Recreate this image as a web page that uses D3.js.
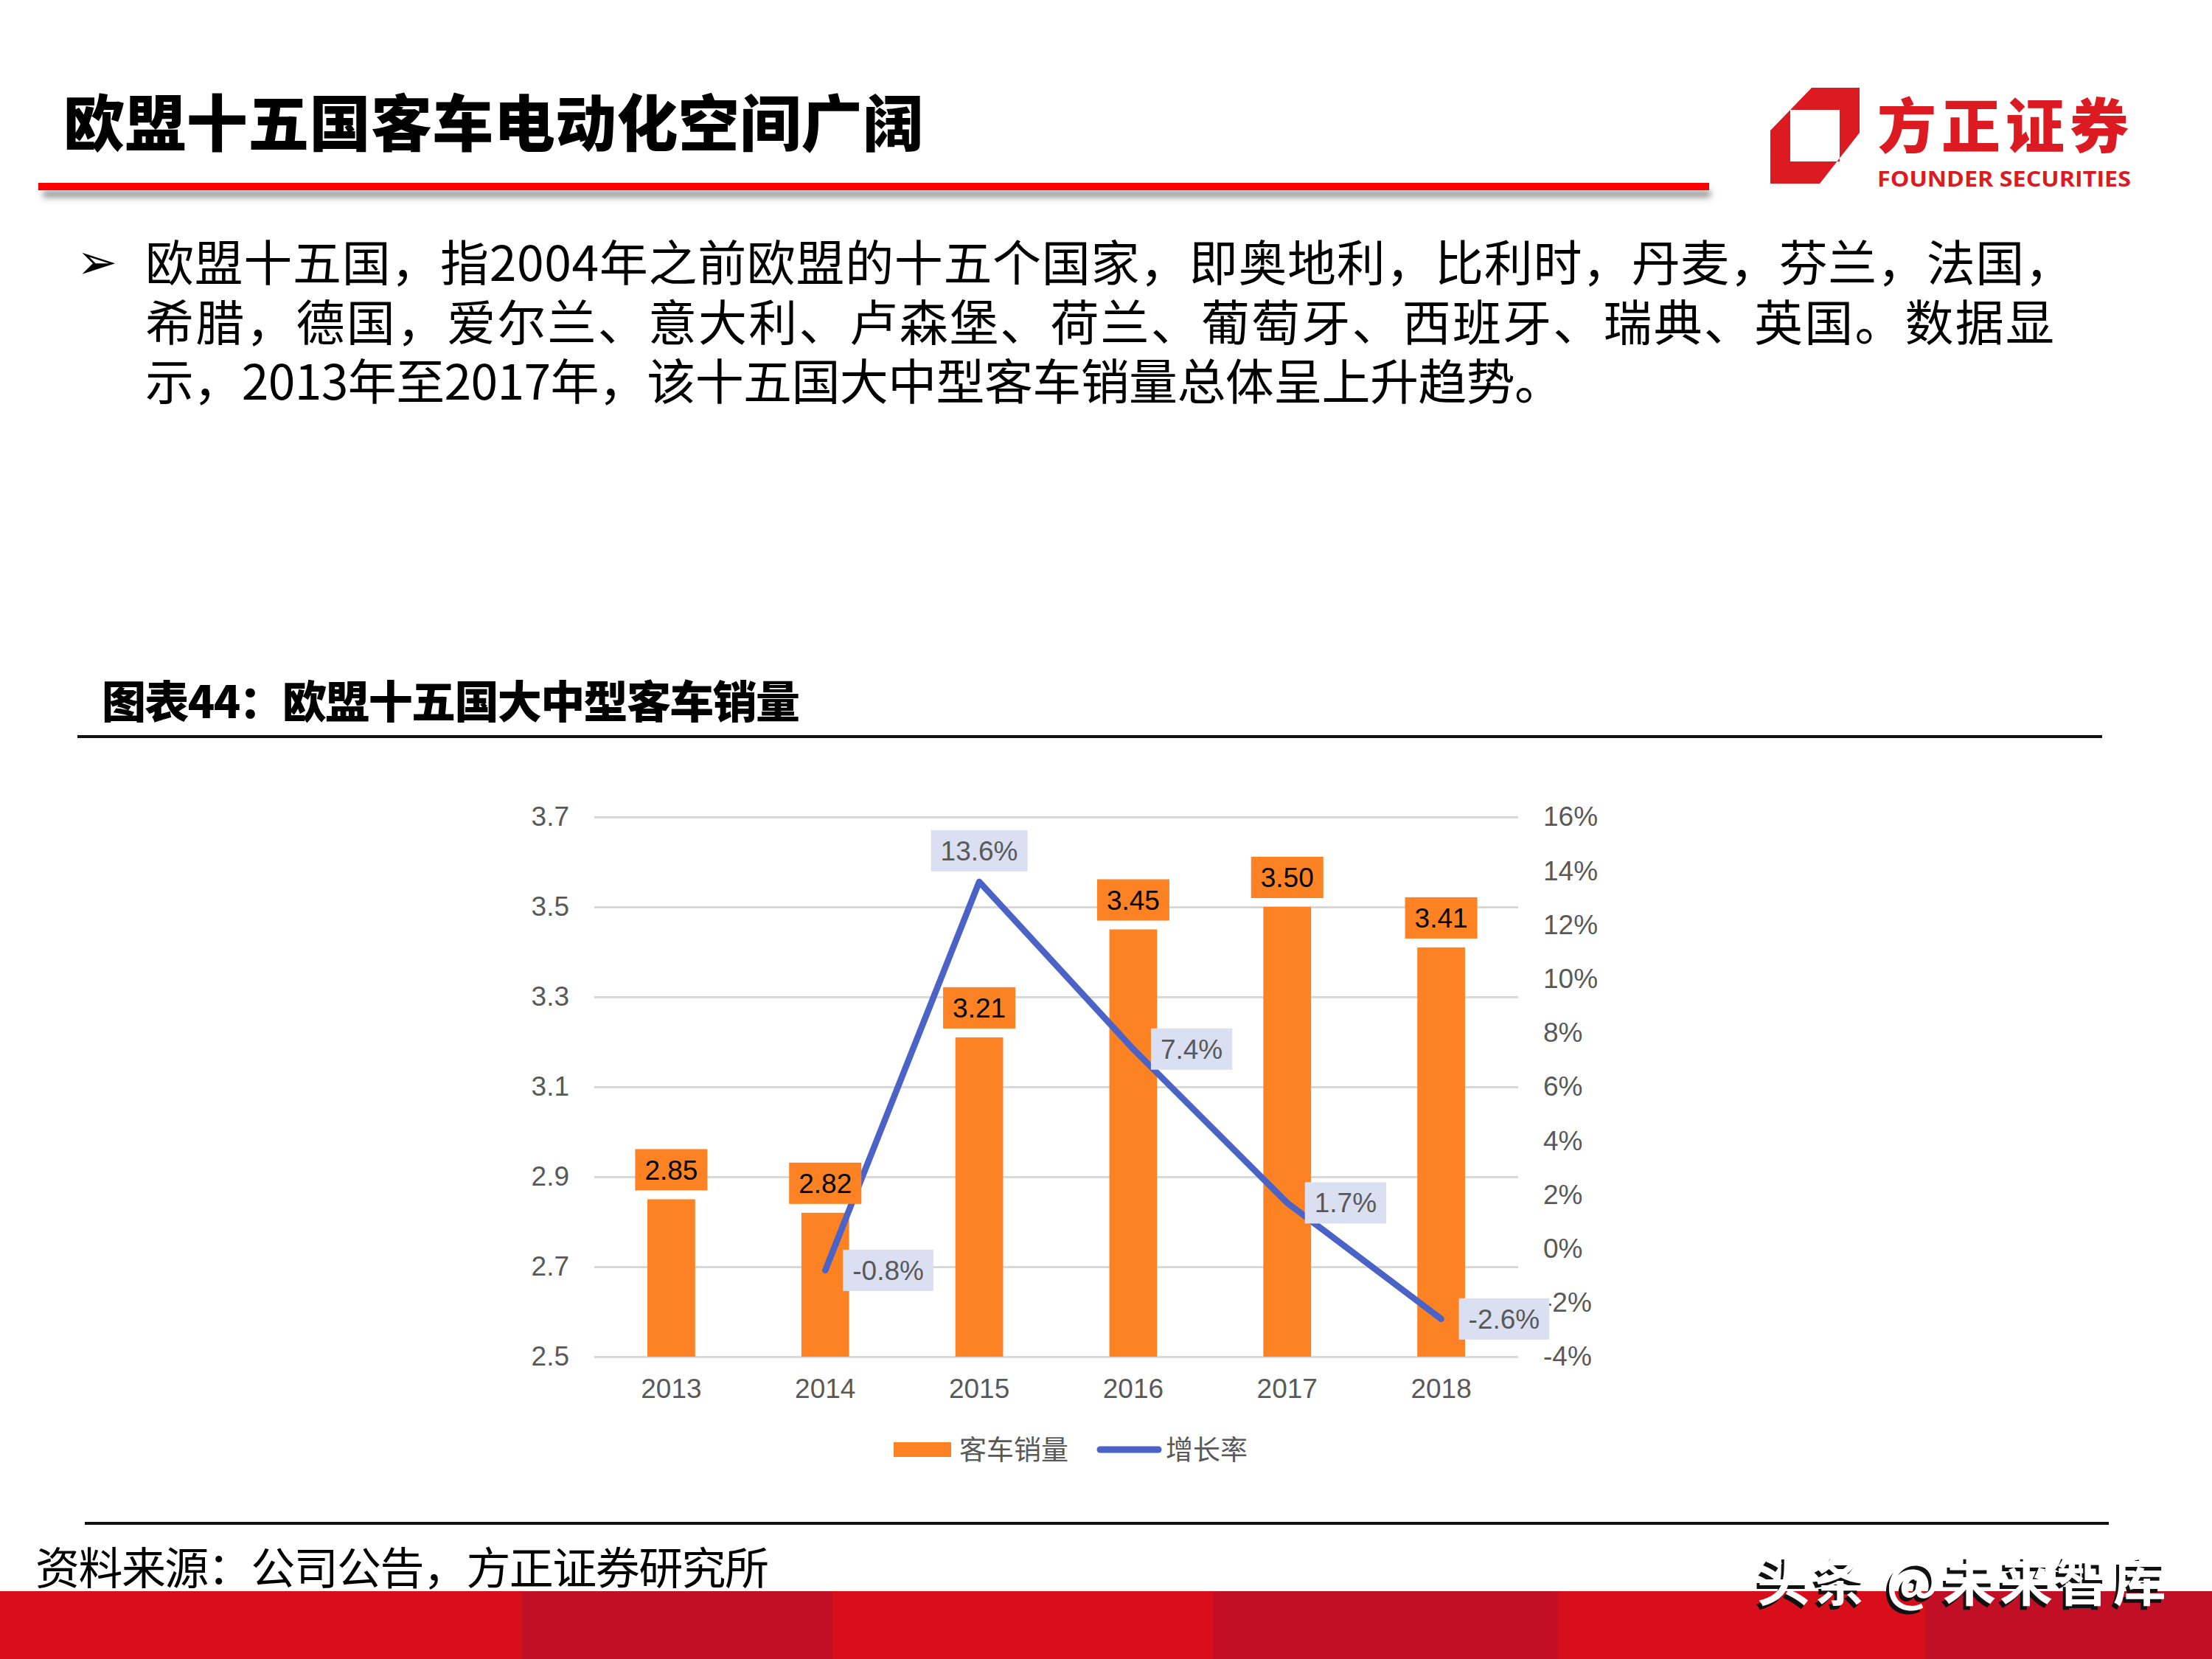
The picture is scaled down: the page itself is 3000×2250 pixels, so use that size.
<!doctype html>
<html lang="zh">
<head>
<meta charset="utf-8">
<script src="https://d3js.org/d3.v7.min.js"></script>
<title>欧盟十五国大中型客车销量</title>
<style>
  html, body { margin: 0; padding: 0; background: #fff; }
  svg { display: block; }
</style>
</head>
<body>
<svg id="svg" width="3000" height="2250"></svg>
<script>
// chart data
const years = ["2013", "2014", "2015", "2016", "2017", "2018"];
const sales = [2.85, 2.82, 3.21, 3.45, 3.50, 3.41];          // 客车销量
const growth = [null, -0.8, 13.6, 7.4, 1.7, -2.6];          // 增长率 (%)
const leftTicks = [2.5, 2.7, 2.9, 3.1, 3.3, 3.5, 3.7];
const rightTicks = [-4, -2, 0, 2, 4, 6, 8, 10, 12, 14, 16];
const legendNames = ["客车销量", "增长率"];

const pageTitle = "欧盟十五国客车电动化空间广阔";
const bodyLines = [
  "欧盟十五国，指2004年之前欧盟的十五个国家，即奥地利，比利时，丹麦，芬兰，法国，",
  "希腊，德国，爱尔兰、意大利、卢森堡、荷兰、葡萄牙、西班牙、瑞典、英国。数据显",
  "示，2013年至2017年，该十五国大中型客车销量总体呈上升趋势。"
];
const chartTitle = "图表44：欧盟十五国大中型客车销量";
const sourceText = "资料来源：公司公告，方正证券研究所";

const orange = "#fd8223", blue = "#4b63c6", lavender = "#dadff1", gray = "#595959";
const cjk = "'Noto Sans CJK SC', 'Noto Sans', sans-serif";
const latin = "'Liberation Sans', Arial, sans-serif";

const svg = d3.select("#svg");
const defs = svg.append("defs");
defs.append("filter").attr("id", "blur").attr("x", "-5%").attr("y", "-200%").attr("width", "110%").attr("height", "500%")
  .append("feGaussianBlur").attr("stdDeviation", 4);

// ---------- header ----------
svg.append("text")
  .attr("x", 86).attr("y", 198)
  .attr("font-family", cjk).attr("font-weight", 900).attr("font-size", 83)
  .attr("textLength", 1167)
  .text(pageTitle);

svg.append("rect").attr("x", 58).attr("y", 258).attr("width", 2262).attr("height", 10)
  .attr("fill", "#9a9a9a").attr("filter", "url(#blur)");
svg.append("rect").attr("x", 52).attr("y", 248).attr("width", 2266).attr("height", 10).attr("fill", "#ff0000");

// logo
const logo = svg.append("g");
logo.append("path")
  .attr("d", "M2401,177 L2457,119 L2522,119 L2522,180 L2468,249 L2401,249 Z M2428,149 L2428,219 L2495,219 L2495,149 Z")
  .attr("fill", "#dc1a22").attr("fill-rule", "evenodd");
logo.append("text").attr("x", 2546).attr("y", 200)
  .attr("font-family", cjk).attr("font-weight", 900).attr("font-size", 80)
  .attr("textLength", 341).attr("fill", "#dc1a22").text("方正证券");
logo.append("text").attr("x", 2546).attr("y", 253)
  .attr("font-family", "'Open Sans', sans-serif").attr("font-weight", 700).attr("font-size", 29)
  .attr("textLength", 344).attr("lengthAdjust", "spacingAndGlyphs").attr("fill", "#dc1a22").text("FOUNDER SECURITIES");

// bullet text
svg.append("text").attr("x", 104).attr("y", 378)
  .attr("font-family", "'DejaVu Sans', sans-serif").attr("font-size", 66).text("➢");
const bodyLen = [2615, 2589, 1923];
svg.selectAll("text.body")
  .data(bodyLines)
  .join("text")
  .attr("class", "body")
  .attr("x", 197)
  .attr("y", (d, i) => 381 + i * 80.5)
  .attr("font-family", cjk).attr("font-size", 66)
  .attr("textLength", (d, i) => bodyLen[i])
  .text(d => d);

// chart title + rule
svg.append("text").attr("x", 138).attr("y", 974)
  .attr("font-family", cjk).attr("font-weight", 900).attr("font-size", 60)
  .attr("textLength", 947).text(chartTitle);
svg.append("rect").attr("x", 105).attr("y", 997).attr("width", 2746).attr("height", 4).attr("fill", "#111");

// ---------- chart ----------
const plot = { left: 806, right: 2059, top: 1108, bottom: 1840 };

const xScale = d3.scaleBand().domain(years).range([plot.left, plot.right]).padding(0);
const yLeft = d3.scaleLinear().domain([2.5, 3.7]).range([plot.bottom, plot.top]);
const yRight = d3.scaleLinear().domain([-4, 16]).range([plot.bottom, plot.top]);

const leftAxis = svg.append("g")
  .attr("transform", `translate(${plot.left},0)`)
  .call(d3.axisLeft(yLeft).tickValues(leftTicks).tickFormat(d3.format(".1f"))
    .tickSize(-(plot.right - plot.left)).tickPadding(34));
leftAxis.select(".domain").remove();
leftAxis.selectAll(".tick line").attr("stroke", "#d9d9d9").attr("stroke-width", 3);
leftAxis.selectAll(".tick text").attr("font-family", latin).attr("font-size", 37).attr("fill", gray);

const rightAxis = svg.append("g")
  .attr("transform", `translate(${plot.right},0)`)
  .call(d3.axisRight(yRight).tickValues(rightTicks).tickFormat(d => d + "%").tickSize(0).tickPadding(34));
rightAxis.select(".domain").remove();
rightAxis.selectAll(".tick text").attr("font-family", latin).attr("font-size", 37).attr("fill", gray);

const xAxis = svg.append("g")
  .attr("transform", `translate(0,${plot.bottom})`)
  .call(d3.axisBottom(xScale).tickSize(0).tickPadding(30));
xAxis.select(".domain").remove();
xAxis.selectAll(".tick text").attr("font-family", latin).attr("font-size", 37).attr("fill", gray);

// bars
const barW = xScale.bandwidth() * 0.31;
const cx = d => xScale(d) + xScale.bandwidth() / 2;
const barData = years.map((y, i) => ({ year: y, v: sales[i] }));

svg.append("g").selectAll("rect")
  .data(barData)
  .join("rect")
  .attr("x", d => cx(d.year) - barW / 2)
  .attr("y", d => yLeft(d.v))
  .attr("width", barW)
  .attr("height", d => yLeft(2.5) - yLeft(d.v))
  .attr("fill", orange);

// growth line
const lineData = years.map((y, i) => ({ year: y, v: growth[i] })).filter(d => d.v !== null);
svg.append("path")
  .datum(lineData)
  .attr("fill", "none")
  .attr("stroke", blue)
  .attr("stroke-width", 8.5)
  .attr("stroke-linecap", "round")
  .attr("stroke-linejoin", "round")
  .attr("d", d3.line().x(d => cx(d.year)).y(d => yRight(d.v)));

// bar value labels
const boxH = 56;
const barLabels = svg.append("g").selectAll("g")
  .data(barData)
  .join("g");
barLabels.each(function (d) {
  const g = d3.select(this);
  const rect = g.append("rect").attr("fill", orange);
  const t = g.append("text")
    .attr("font-family", latin).attr("font-size", 37).attr("fill", "#000")
    .attr("text-anchor", "middle")
    .attr("x", cx(d.year))
    .attr("y", yLeft(d.v) - 12 - boxH / 2 + 13)
    .text(d.v.toFixed(2));
  const w = t.node().getComputedTextLength() + 26;
  rect.attr("x", cx(d.year) - w / 2).attr("y", yLeft(d.v) - 12 - boxH)
    .attr("width", w).attr("height", boxH);
});

// growth value labels
const growthLabels = svg.append("g").selectAll("g")
  .data(lineData)
  .join("g");
growthLabels.each(function (d) {
  const g = d3.select(this);
  const rect = g.append("rect").attr("fill", lavender);
  const t = g.append("text")
    .attr("font-family", latin).attr("font-size", 37).attr("fill", gray)
    .text(d.v.toFixed(1) + "%");
  const w = t.node().getComputedTextLength() + 26;
  const px = cx(d.year), py = yRight(d.v);
  let x0, y0;
  if (d.v === d3.max(lineData, e => e.v)) {
    x0 = px - w / 2; y0 = py - 14 - boxH;
  } else {
    x0 = px + 24; y0 = py - boxH / 2;
  }
  rect.attr("x", x0).attr("y", y0).attr("width", w).attr("height", boxH);
  t.attr("x", x0 + 13).attr("y", y0 + boxH / 2 + 13);
});

// legend
const legend = svg.append("g");
legend.append("rect").attr("x", 1212).attr("y", 1956).attr("width", 78).attr("height", 20).attr("fill", orange);
legend.append("text").attr("x", 1301).attr("y", 1980)
  .attr("font-family", cjk).attr("font-size", 37).attr("fill", gray).text(legendNames[0]);
legend.append("line").attr("x1", 1492).attr("x2", 1571).attr("y1", 1966).attr("y2", 1966)
  .attr("stroke", blue).attr("stroke-width", 9).attr("stroke-linecap", "round");
legend.append("text").attr("x", 1581).attr("y", 1980)
  .attr("font-family", cjk).attr("font-size", 37).attr("fill", gray).text(legendNames[1]);

// ---------- footer ----------
svg.append("rect").attr("x", 115).attr("y", 2064).attr("width", 2745).attr("height", 4).attr("fill", "#111");
svg.append("text").attr("x", 48).attr("y", 2149)
  .attr("font-family", cjk).attr("font-size", 60)
  .attr("textLength", 995).text(sourceText);

const stripes = [[0, 708, "#d80f1b"], [708, 1129, "#c10f25"], [1129, 1645, "#d80f1b"],
                 [1645, 2114, "#c10f25"], [2114, 2611, "#d80f1b"], [2611, 3000, "#c10f25"]];
svg.append("g").selectAll("rect")
  .data(stripes)
  .join("rect")
  .attr("x", d => d[0]).attr("y", 2158)
  .attr("width", d => d[1] - d[0]).attr("height", 92)
  .attr("fill", d => d[2]);

const wm = svg.append("g").attr("font-family", cjk).attr("font-size", 72).attr("font-weight", 700);
wm.append("text").attr("x", 2379).attr("y", 2176).attr("fill", "#111").attr("textLength", 555).text("头条 @未来智库");
wm.append("text").attr("x", 2383).attr("y", 2171).attr("fill", "#fff").attr("textLength", 555).text("头条 @未来智库");
</script>
</body>
</html>
